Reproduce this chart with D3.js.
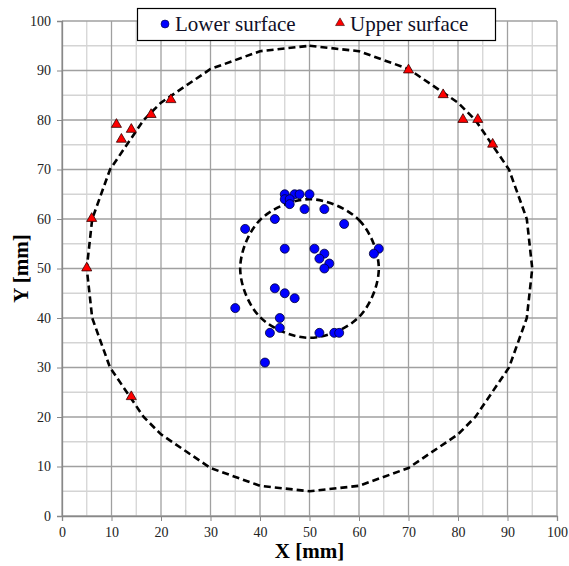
<!DOCTYPE html>
<html>
<head>
<meta charset="utf-8">
<script src="https://cdn.jsdelivr.net/npm/d3@7"></script>
<style>
  body { margin: 0; background: #fff; }
  text { font-family: "Liberation Serif", "Times New Roman", serif; }
</style>
</head>
<body>
<script>
// Chart size
var svgWidth = 569;
var svgHeight = 566;

var margin = { top: 21, right: 12, bottom: 50, left: 62 };
var width = svgWidth - margin.left - margin.right;
var height = svgHeight - margin.top - margin.bottom;

// Lower surface points [x, y] in mm
var lowerX = [45, 47, 48, 50, 45, 46, 46, 49, 53, 43, 57, 37, 45, 51, 64, 63, 53, 52, 54, 53,
              43, 45, 47, 35, 44, 44, 42, 52, 55, 56, 41];
var lowerY = [65, 65, 65, 65, 64, 64, 63, 62, 62, 60, 59, 58, 54, 54, 54, 53, 53, 52, 51, 50,
              46, 45, 44, 42, 40, 38, 37, 37, 37, 37, 31];

// Upper surface points
var upperX = [11, 12, 14, 18, 22, 70, 77, 81, 84, 87, 6, 5, 14];
var upperY = [79, 76, 78, 81, 84, 90, 85, 80, 80, 75, 60, 50, 24];

// Outer reference circle (vertices of the dashed polyline)
var outerX = [50, 60, 70, 80, 83.5, 90.3, 93.9, 95, 93.9, 90.3, 83.5, 80, 70, 60, 50,
              40, 30, 20, 16.5, 9.7, 6.1, 5, 6.1, 9.7, 16.5, 20, 30, 40, 50];
var outerY = [95, 93.9, 90.3, 83.5, 80, 70, 60, 50, 40, 30, 20, 16.5, 9.7, 6.1, 5,
              6.1, 9.7, 16.5, 20, 30, 40, 50, 60, 70, 80, 83.5, 90.3, 93.9, 95];

// Inner reference circle
var innerX = [50, 60, 64, 60, 50, 40, 36, 40];
var innerY = [64, 59.8, 50, 40.2, 36, 40.2, 50, 59.8];

var xTicks = d3.range(0, 101, 10);
var yTicks = d3.range(0, 101, 10);
var minorTicks = d3.range(5, 100, 10);

var lower = lowerX.map((x, i) => ({ x: x, y: lowerY[i] }));
var upper = upperX.map((x, i) => ({ x: x, y: upperY[i] }));
var outer = outerX.map((x, i) => ({ x: x, y: outerY[i] }));
var inner = innerX.map((x, i) => ({ x: x, y: innerY[i] }));

var svg = d3.select("body").append("svg")
  .attr("width", svgWidth)
  .attr("height", svgHeight);

var g = svg.append("g")
  .attr("transform", `translate(${margin.left}, ${margin.top})`);

var xScale = d3.scaleLinear().domain([0, 100]).range([0, width]);
var yScale = d3.scaleLinear().domain([0, 100]).range([height, 0]);

// minor grid
g.selectAll(".vminor").data(minorTicks).enter().append("line")
  .attr("x1", d => xScale(d)).attr("x2", d => xScale(d))
  .attr("y1", 0).attr("y2", height)
  .attr("stroke", "#d4d4d4").attr("stroke-width", 1.3);
g.selectAll(".hminor").data(minorTicks).enter().append("line")
  .attr("y1", d => yScale(d)).attr("y2", d => yScale(d))
  .attr("x1", 0).attr("x2", width)
  .attr("stroke", "#d4d4d4").attr("stroke-width", 1.3);

// major grid
g.selectAll(".vmajor").data(xTicks).enter().append("line")
  .attr("x1", d => xScale(d)).attr("x2", d => xScale(d))
  .attr("y1", 0).attr("y2", height)
  .attr("stroke", "#a0a0a0").attr("stroke-width", 1.3);
g.selectAll(".hmajor").data(yTicks).enter().append("line")
  .attr("y1", d => yScale(d)).attr("y2", d => yScale(d))
  .attr("x1", 0).attr("x2", width)
  .attr("stroke", "#a0a0a0").attr("stroke-width", 1.3);

// axes
var bottomAxis = d3.axisBottom(xScale).tickValues(xTicks).tickSize(5).tickPadding(6);
var leftAxis = d3.axisLeft(yScale).tickValues(yTicks).tickSize(5).tickPadding(6);

var xAxisG = g.append("g")
  .attr("transform", `translate(0, ${height})`)
  .call(bottomAxis);
var yAxisG = g.append("g").call(leftAxis);

[xAxisG, yAxisG].forEach(function(ax) {
  ax.attr("font-family", null).attr("font-size", null);
  ax.select(".domain").attr("stroke", "#888").attr("stroke-width", 1.3);
  ax.selectAll(".tick line").attr("stroke", "#888");
  ax.selectAll("text")
    .style("font-family", "'Liberation Serif', serif")
    .style("font-size", "14px")
    .attr("fill", "#222");
});

// curves
var line = d3.line().x(d => xScale(d.x)).y(d => yScale(d.y));
g.append("path")
  .datum(outer)
  .attr("d", line)
  .attr("fill", "none")
  .attr("stroke", "#000")
  .attr("stroke-width", 2.6)
  .attr("stroke-dasharray", "7,4");

g.append("path")
  .datum(inner)
  .attr("d", line.curve(d3.curveCatmullRomClosed))
  .attr("fill", "none")
  .attr("stroke", "#000")
  .attr("stroke-width", 2.6)
  .attr("stroke-dasharray", "7,4");

// points
g.selectAll(".lower").data(lower).enter().append("circle")
  .attr("cx", d => xScale(d.x))
  .attr("cy", d => yScale(d.y))
  .attr("r", 4.5)
  .attr("fill", "#0000ff")
  .attr("stroke", "#000033")
  .attr("stroke-width", 0.8);

var tri = d3.symbol().type(d3.symbolTriangle).size(44);
g.selectAll(".upper").data(upper).enter().append("path")
  .attr("d", tri)
  .attr("transform", d => `translate(${xScale(d.x)}, ${yScale(d.y) - 0.5})`)
  .attr("fill", "#ff0000")
  .attr("stroke", "#330000")
  .attr("stroke-width", 0.8);

// axis titles
svg.append("text")
  .attr("x", margin.left + xScale(50))
  .attr("y", 558)
  .attr("text-anchor", "middle")
  .style("font-size", "21px")
  .style("font-weight", "bold")
  .text("X [mm]");

svg.append("text")
  .attr("transform", `translate(28, ${margin.top + yScale(50)}) rotate(-90)`)
  .attr("text-anchor", "middle")
  .style("font-size", "21px")
  .style("font-weight", "bold")
  .text("Y [mm]");

// legend
var legend = svg.append("g");
legend.append("rect")
  .attr("x", 137.5).attr("y", 8.5)
  .attr("width", 358).attr("height", 32)
  .attr("fill", "#fff")
  .attr("stroke", "#000")
  .attr("stroke-width", 1.2);

legend.append("circle")
  .attr("cx", 165).attr("cy", 24).attr("r", 4)
  .attr("fill", "#0000ff").attr("stroke", "#000033").attr("stroke-width", 0.6);
legend.append("text")
  .attr("x", 175).attr("y", 31)
  .style("font-size", "21px")
  .attr("fill", "#101028")
  .text("Lower surface");

legend.append("path")
  .attr("d", d3.symbol().type(d3.symbolTriangle).size(34))
  .attr("transform", "translate(340, 23)")
  .attr("fill", "#ff0000").attr("stroke", "#330000").attr("stroke-width", 0.6);
legend.append("text")
  .attr("x", 350).attr("y", 31)
  .style("font-size", "21px")
  .attr("fill", "#101028")
  .text("Upper surface");
</script>
</body>
</html>
